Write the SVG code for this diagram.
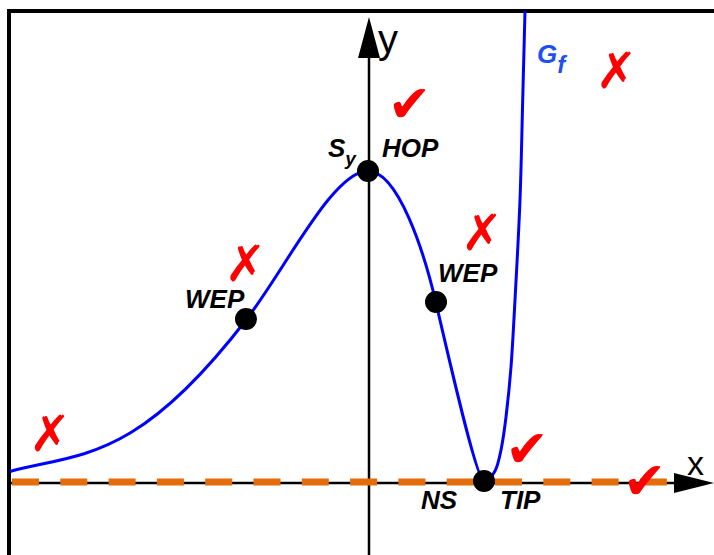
<svg xmlns="http://www.w3.org/2000/svg" width="714" height="555" viewBox="0 0 714 555">
<style>
.lbl{font-family:"Liberation Sans",Arial,sans-serif;font-weight:bold;font-style:italic;font-size:26px;fill:#000}
.sub{font-size:19px}
.ax{font-family:"Liberation Sans",Arial,sans-serif;fill:#000}
.mark{font-family:"DejaVu Sans",sans-serif;fill:#FF0000;text-anchor:middle}
.ok{font-size:52px}
.no{font-size:50px}
.dot{fill:#000}
</style>
<rect width="714" height="555" fill="#fff"/>
<g id="frame"><path d="M9,555 V11 H714" fill="none" stroke="#000" stroke-width="4"/></g>
<g id="axes">
<line x1="369" y1="555" x2="369" y2="56" stroke="#000" stroke-width="2.5"/>
<polygon points="369,17 358,58 380,58" fill="#000"/>
<line x1="9" y1="483" x2="676" y2="483" stroke="#000" stroke-width="2.5"/>
<polygon points="714,483 674,473 674,493" fill="#000"/>
<text class="ax" x="378" y="53" font-size="40">y</text>
<text class="ax" x="687" y="475" font-size="34">x</text>
</g>
<g id="asymptote"><line x1="12" y1="482" x2="667" y2="482" stroke="#E46C0A" stroke-width="7" stroke-dasharray="27 21.3"/></g>
<g id="curve"><path fill="none" stroke="#0000FF" stroke-width="3" d="M10,471.5 C80,452.6 136,463 246,320 C286,268 333,171 368,171 C398,171 424,251.4 436,303 C453,376.1 477,481 484,481 C488,481 492.17,476.17 495,471 C497.83,465.83 499.17,459 501,450 C502.83,441 504.33,430.83 506,417 C507.67,403.17 509.5,386.5 511,367 C512.5,347.5 513.5,327.83 515,300 C516.5,272.17 518.72,233.33 520,200 C521.28,166.67 521.87,131.5 522.7,100 C523.53,68.5 524.23,40.67 525,11"/></g>
<g id="sy"><circle class="dot" cx="368" cy="171" r="11"/><text class="lbl" x="328" y="157">S<tspan class="sub" dy="8">y</tspan></text><text class="lbl" x="382" y="157">HOP</text></g>
<g id="wep-left"><circle class="dot" cx="246" cy="319" r="11"/><text class="lbl" x="185" y="308">WEP</text></g>
<g id="wep-right"><circle class="dot" cx="436" cy="302" r="11"/><text class="lbl" x="438" y="282">WEP</text></g>
<g id="tip"><circle class="dot" cx="484" cy="481" r="11"/><text class="lbl" x="421" y="509">NS</text><text class="lbl" x="500" y="509">TIP</text></g>
<g id="gf"><text class="lbl" x="537" y="63" style="fill:#1E50F0">G<tspan dy="10" font-size="24">f</tspan></text></g>
<g id="marks">
<text class="mark ok" x="409.5" y="122">✔</text>
<text class="mark no" x="616.5" y="88">✗</text>
<text class="mark no" x="245.5" y="281">✗</text>
<text class="mark no" x="482" y="250">✗</text>
<text class="mark no" x="50" y="451">✗</text>
<text class="mark ok" x="527" y="467">✔</text>
<text class="mark ok" x="644.5" y="499">✔</text>
</g>
</svg>
